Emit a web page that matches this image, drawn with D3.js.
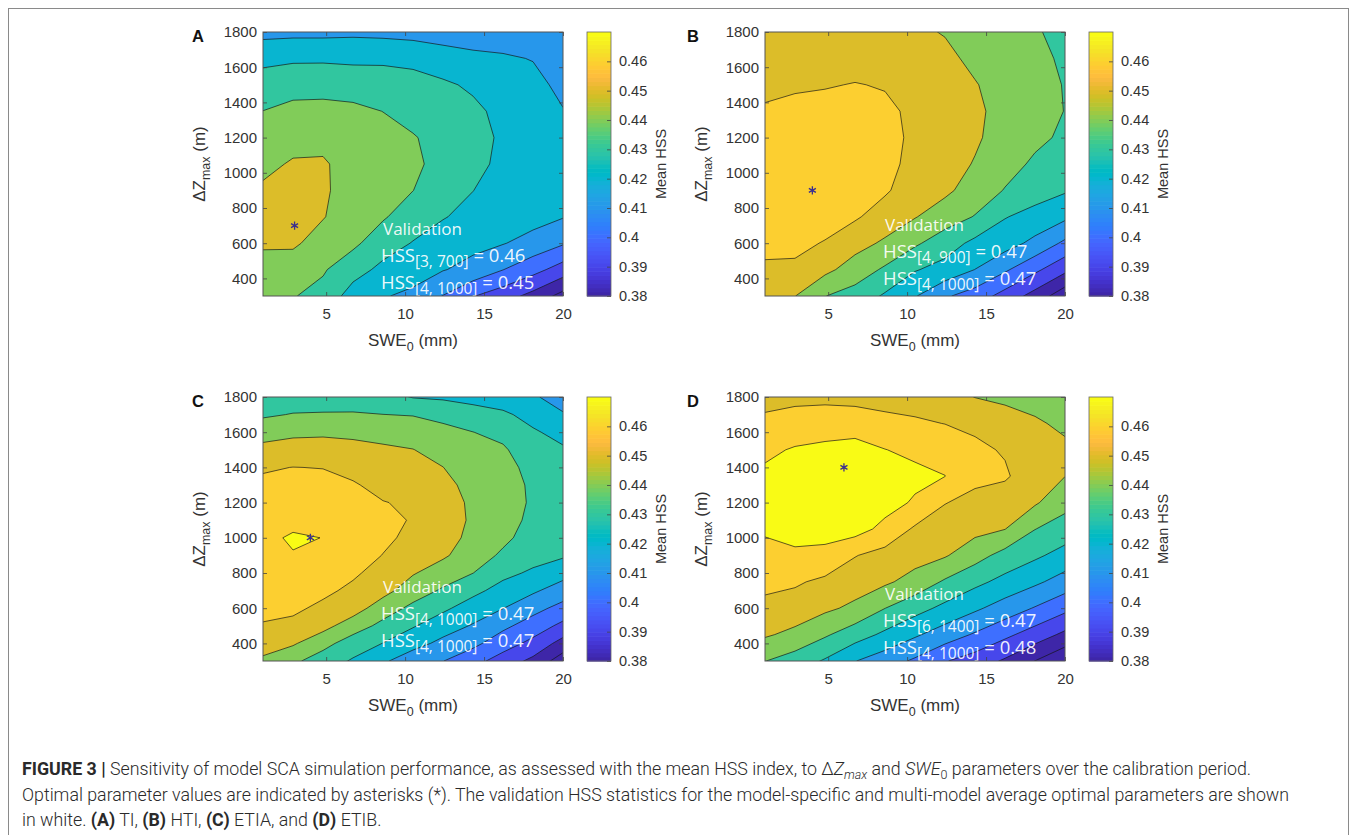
<!DOCTYPE html>
<html>
<head>
<meta charset="utf-8">
<title>Figure 3 – HSS sensitivity</title>
<script src="https://cdn.jsdelivr.net/npm/d3@7/dist/d3.min.js"></script>
<style>
  html, body { margin: 0; padding: 0; background: #fff; }
  svg { display: block; }
</style>
</head>
<body>
<svg id="fig" width="1357" height="835"></svg>
<script>
// ---- sampling grid -------------------------------------------------------
// SWE0 sample positions (mm), one per grid column
const sweNodes = [1, 2.9, 4.8, 6.7, 8.6, 10.5, 12.4, 14.3, 16.2, 18.1, 20];
// ΔZmax sample positions (m), one per grid row, top row first
const dzRowsCoarse = [1800, 1650, 1500, 1350, 1200, 1050, 900, 750, 600, 450, 300];
const dzRowsFine = [1800, 1700, 1600, 1500, 1400, 1300, 1200, 1100, 1000, 900, 800, 700, 600, 500, 400, 300];

// ---- mean HSS over the calibration period (rows follow the ΔZmax lists) ----
const hssTI = [
  [0.4170, 0.4175, 0.4175, 0.4180, 0.4175, 0.4165, 0.4155, 0.4145, 0.4135, 0.4125, 0.4115],
  [0.4275, 0.4285, 0.4285, 0.4280, 0.4280, 0.4275, 0.4245, 0.4225, 0.4215, 0.4195, 0.4145],
  [0.4345, 0.4365, 0.4370, 0.4360, 0.4355, 0.4335, 0.4315, 0.4285, 0.4250, 0.4235, 0.4170],
  [0.4401, 0.4425, 0.4425, 0.4420, 0.4399, 0.4375, 0.4355, 0.4320, 0.4275, 0.4255, 0.4205],
  [0.4445, 0.4465, 0.4475, 0.4460, 0.4430, 0.4405, 0.4375, 0.4335, 0.4285, 0.4260, 0.4235],
  [0.4475, 0.4510, 0.4510, 0.4465, 0.4445, 0.4415, 0.4375, 0.4325, 0.4280, 0.4255, 0.4240],
  [0.4515, 0.4545, 0.4510, 0.4470, 0.4435, 0.4401, 0.4345, 0.4301, 0.4265, 0.4245, 0.4230],
  [0.4550, 0.4560, 0.4505, 0.4450, 0.4410, 0.4350, 0.4305, 0.4275, 0.4245, 0.4235, 0.4205],
  [0.4510, 0.4515, 0.4460, 0.4420, 0.4345, 0.4295, 0.4260, 0.4225, 0.4205, 0.4165, 0.4110],
  [0.4470, 0.4450, 0.4410, 0.4340, 0.4275, 0.4230, 0.4205, 0.4170, 0.4102, 0.4035, 0.3955],
  [0.4440, 0.4405, 0.4370, 0.4255, 0.4205, 0.4185, 0.4097, 0.4005, 0.3945, 0.3868, 0.3765]
];
const hssHTI = [
  [0.4515, 0.4525, 0.4530, 0.4535, 0.4525, 0.4515, 0.4495, 0.4455, 0.4440, 0.4410, 0.4370],
  [0.4545, 0.4550, 0.4555, 0.4570, 0.4565, 0.4550, 0.4520, 0.4480, 0.4455, 0.4425, 0.4385],
  [0.4575, 0.4585, 0.4595, 0.4603, 0.4595, 0.4570, 0.4545, 0.4505, 0.4465, 0.4438, 0.4395],
  [0.4612, 0.4630, 0.4625, 0.4625, 0.4615, 0.4585, 0.4555, 0.4520, 0.4465, 0.4435, 0.4398],
  [0.4635, 0.4650, 0.4645, 0.4635, 0.4625, 0.4585, 0.4555, 0.4515, 0.4455, 0.4420, 0.4385],
  [0.4650, 0.4660, 0.4655, 0.4640, 0.4625, 0.4575, 0.4545, 0.4493, 0.4435, 0.4385, 0.4355],
  [0.4655, 0.4665, 0.4655, 0.4635, 0.4612, 0.4550, 0.4520, 0.4455, 0.4395, 0.4345, 0.4310],
  [0.4645, 0.4650, 0.4635, 0.4612, 0.4555, 0.4505, 0.4447, 0.4395, 0.4305, 0.4265, 0.4220],
  [0.4625, 0.4620, 0.4595, 0.4535, 0.4485, 0.4415, 0.4348, 0.4275, 0.4240, 0.4175, 0.4080],
  [0.4585, 0.4585, 0.4525, 0.4455, 0.4385, 0.4307, 0.4265, 0.4199, 0.4115, 0.4022, 0.3925],
  [0.4545, 0.4502, 0.4402, 0.4360, 0.4287, 0.4207, 0.4113, 0.4055, 0.3962, 0.3862, 0.3735]
];
const hssETIA = [
  [0.4335, 0.4345, 0.4350, 0.4355, 0.4335, 0.4295, 0.4285, 0.4265, 0.4245, 0.4212, 0.4158],
  [0.4385, 0.4405, 0.4408, 0.4408, 0.4401, 0.4395, 0.4375, 0.4345, 0.4318, 0.4265, 0.4208],
  [0.4465, 0.4478, 0.4482, 0.4475, 0.4468, 0.4458, 0.4425, 0.4401, 0.4375, 0.4312, 0.4268],
  [0.4525, 0.4545, 0.4548, 0.4535, 0.4515, 0.4502, 0.4468, 0.4428, 0.4412, 0.4345, 0.4312],
  [0.4592, 0.4601, 0.4598, 0.4575, 0.4548, 0.4535, 0.4501, 0.4452, 0.4435, 0.4368, 0.4338],
  [0.4615, 0.4620, 0.4622, 0.4608, 0.4575, 0.4565, 0.4525, 0.4472, 0.4448, 0.4382, 0.4360],
  [0.4638, 0.4645, 0.4645, 0.4625, 0.4603, 0.4588, 0.4545, 0.4482, 0.4452, 0.4385, 0.4368],
  [0.4655, 0.4660, 0.4672, 0.4638, 0.4618, 0.4595, 0.4550, 0.4485, 0.4438, 0.4378, 0.4362],
  [0.4665, 0.4718, 0.4698, 0.4640, 0.4615, 0.4582, 0.4538, 0.4475, 0.4420, 0.4362, 0.4345],
  [0.4662, 0.4692, 0.4678, 0.4635, 0.4598, 0.4555, 0.4515, 0.4445, 0.4385, 0.4335, 0.4312],
  [0.4655, 0.4675, 0.4655, 0.4618, 0.4555, 0.4508, 0.4448, 0.4401, 0.4325, 0.4285, 0.4235],
  [0.4645, 0.4652, 0.4625, 0.4575, 0.4535, 0.4445, 0.4388, 0.4325, 0.4265, 0.4215, 0.4152],
  [0.4628, 0.4622, 0.4575, 0.4548, 0.4445, 0.4378, 0.4318, 0.4255, 0.4202, 0.4132, 0.4068],
  [0.4592, 0.4572, 0.4535, 0.4445, 0.4375, 0.4308, 0.4245, 0.4192, 0.4122, 0.4055, 0.3975],
  [0.4535, 0.4512, 0.4430, 0.4355, 0.4298, 0.4235, 0.4175, 0.4125, 0.4045, 0.3972, 0.3862],
  [0.4485, 0.4418, 0.4355, 0.4288, 0.4215, 0.4142, 0.4102, 0.4035, 0.3955, 0.3875, 0.3745]
];
const hssETIB = [
  [0.4565, 0.4575, 0.4578, 0.4568, 0.4562, 0.4555, 0.4545, 0.4498, 0.4485, 0.4478, 0.4462],
  [0.4625, 0.4645, 0.4652, 0.4658, 0.4630, 0.4615, 0.4598, 0.4582, 0.4534, 0.4508, 0.4488],
  [0.4682, 0.4708, 0.4722, 0.4732, 0.4702, 0.4678, 0.4672, 0.4618, 0.4592, 0.4535, 0.4512],
  [0.4718, 0.4738, 0.4752, 0.4762, 0.4742, 0.4725, 0.4701, 0.4622, 0.4612, 0.4545, 0.4501],
  [0.4728, 0.4742, 0.4752, 0.4758, 0.4738, 0.4688, 0.4603, 0.4575, 0.4548, 0.4512, 0.4433],
  [0.4712, 0.4725, 0.4735, 0.4740, 0.4672, 0.4586, 0.4557, 0.4529, 0.4502, 0.4402, 0.4353],
  [0.4672, 0.4688, 0.4675, 0.4604, 0.4567, 0.4537, 0.4509, 0.4439, 0.4365, 0.4317, 0.4265],
  [0.4625, 0.4612, 0.4580, 0.4547, 0.4516, 0.4464, 0.4387, 0.4325, 0.4271, 0.4219, 0.4158],
  [0.4575, 0.4558, 0.4519, 0.4479, 0.4401, 0.4337, 0.4275, 0.4217, 0.4156, 0.4093, 0.4027],
  [0.4512, 0.4475, 0.4413, 0.4346, 0.4280, 0.4214, 0.4152, 0.4089, 0.4023, 0.3955, 0.3878],
  [0.4402, 0.4355, 0.4289, 0.4203, 0.4146, 0.4084, 0.4006, 0.3955, 0.3886, 0.3799, 0.3712]
];

// ---- contour levels, colour bar and axes ---------------------------------
const contourLevels = [0.38, 0.39, 0.40, 0.41, 0.42, 0.43, 0.44, 0.45, 0.46, 0.47];
const colorbarRange = [0.38, 0.47];
const colorbarTicks = [0.38, 0.39, 0.40, 0.41, 0.42, 0.43, 0.44, 0.45, 0.46];
const sweTicks = [5, 10, 15, 20];
const dzTicks = [400, 600, 800, 1000, 1200, 1400, 1600, 1800];

// ---- optimum (asterisk) and validation statistics per model --------------
const modelNames = ["TI", "HTI", "ETIA", "ETIB"];
const optimumTI = [3, 700], optimumHTI = [4, 900], optimumETIA = [4, 1000], optimumETIB = [6, 1400];
const validationTI = [["[3, 700]", "0.46"], ["[4, 1000]", "0.45"]];
const validationHTI = [["[4, 900]", "0.47"], ["[4, 1000]", "0.47"]];
const validationETIA = [["[4, 1000]", "0.47"], ["[4, 1000]", "0.47"]];
const validationETIB = [["[6, 1400]", "0.47"], ["[4, 1000]", "0.48"]];

// MATLAB parula colormap, 64 entries
const parula = [
[0.2422,0.1504,0.6603],[0.2504,0.1650,0.7076],[0.2578,0.1818,0.7511],[0.2647,0.1978,0.7952],
[0.2706,0.2147,0.8364],[0.2751,0.2342,0.8710],[0.2783,0.2559,0.8991],[0.2803,0.2782,0.9221],
[0.2813,0.3006,0.9414],[0.2810,0.3228,0.9579],[0.2795,0.3447,0.9717],[0.2760,0.3667,0.9829],
[0.2699,0.3892,0.9906],[0.2602,0.4123,0.9952],[0.2440,0.4358,0.9988],[0.2206,0.4603,0.9973],
[0.1963,0.4847,0.9892],[0.1834,0.5074,0.9798],[0.1786,0.5289,0.9682],[0.1764,0.5499,0.9520],
[0.1687,0.5703,0.9359],[0.1540,0.5902,0.9218],[0.1460,0.6091,0.9079],[0.1380,0.6276,0.8973],
[0.1248,0.6459,0.8883],[0.1113,0.6635,0.8763],[0.0952,0.6798,0.8598],[0.0689,0.6948,0.8394],
[0.0297,0.7082,0.8163],[0.0036,0.7203,0.7917],[0.0067,0.7312,0.7660],[0.0433,0.7411,0.7394],
[0.0964,0.7500,0.7120],[0.1408,0.7584,0.6842],[0.1717,0.7670,0.6554],[0.1938,0.7758,0.6251],
[0.2161,0.7843,0.5923],[0.2470,0.7918,0.5567],[0.2906,0.7973,0.5188],[0.3406,0.8008,0.4789],
[0.3909,0.8029,0.4354],[0.4456,0.8024,0.3909],[0.5044,0.7993,0.3480],[0.5616,0.7942,0.3045],
[0.6174,0.7876,0.2612],[0.6720,0.7793,0.2227],[0.7242,0.7698,0.1910],[0.7738,0.7598,0.1646],
[0.8203,0.7498,0.1535],[0.8634,0.7406,0.1596],[0.9035,0.7330,0.1774],[0.9393,0.7288,0.2100],
[0.9728,0.7298,0.2394],[0.9956,0.7434,0.2371],[0.9970,0.7659,0.2199],[0.9952,0.7893,0.2028],
[0.9892,0.8136,0.1885],[0.9786,0.8386,0.1766],[0.9676,0.8639,0.1643],[0.9610,0.8890,0.1537],
[0.9597,0.9135,0.1423],[0.9628,0.9373,0.1265],[0.9691,0.9606,0.1064],[0.9769,0.9839,0.0805]
];
const parulaHex = parula.map(c => d3.rgb(c[0] * 255, c[1] * 255, c[2] * 255).formatHex());
const cIndex = d3.scaleLinear().domain(colorbarRange).range([0, parula.length - 1]).clamp(true);
const levelColor = v => parulaHex[Math.round(cIndex(v))];

// ---- layout ----------------------------------------------------------------
const PW = 300, PH = 264;
const panels = [
  { letter: "A", grid: hssTI,   rows: dzRowsCoarse, left: 263, top: 32,  opt: optimumTI,   val: validationTI,   textTop: 203, letterX: 198 },
  { letter: "B", grid: hssHTI,  rows: dzRowsCoarse, left: 765, top: 32,  opt: optimumHTI,  val: validationHTI,  textTop: 199, letterX: 693 },
  { letter: "C", grid: hssETIA, rows: dzRowsFine,   left: 263, top: 397, opt: optimumETIA, val: validationETIA, textTop: 196, letterX: 198 },
  { letter: "D", grid: hssETIB, rows: dzRowsCoarse, left: 765, top: 397, opt: optimumETIB, val: validationETIB, textTop: 203, letterX: 693 }
];

const svg = d3.select("#fig");
const tickFont = "'Liberation Sans', Arial, Helvetica, sans-serif";
const inkColor = "#333333";

// figure frame
svg.append("rect")
  .attr("x", 8.5).attr("y", 8.5).attr("width", 1340).attr("height", 840)
  .attr("fill", "none").attr("stroke", "#8a8a8a").attr("stroke-width", 1);

const contourGen = d3.contours().thresholds(contourLevels);

panels.forEach(p => {
  const g = svg.append("g").attr("class", "panel panel-" + p.letter);
  const x = d3.scaleLinear().domain([1, 20]).range([p.left, p.left + PW]);
  const y = d3.scaleLinear().domain([300, 1800]).range([p.top + PH, p.top]);

  // grid index -> screen (d3.contours puts sample k at k + 0.5)
  const nx = sweNodes.length, ny = p.rows.length;
  const gx = d3.scaleLinear().domain([0.5, nx - 0.5]).range([x(sweNodes[0]), x(sweNodes[nx - 1])]);
  const gy = d3.scaleLinear().domain([0.5, ny - 0.5]).range([y(p.rows[0]), y(p.rows[ny - 1])]);
  const path = d3.geoPath(d3.geoTransform({
    point(px, py) { this.stream.point(gx(px), gy(py)); }
  }));

  const bands = contourGen.size([nx, ny])(p.grid.flat());

  const clipId = "clip-" + p.letter;
  g.append("clipPath").attr("id", clipId)
    .append("rect").attr("x", p.left).attr("y", p.top).attr("width", PW).attr("height", PH);

  const plot = g.append("g").attr("clip-path", `url(#${clipId})`);
  plot.append("rect")
    .attr("x", p.left).attr("y", p.top).attr("width", PW).attr("height", PH)
    .attr("fill", levelColor(colorbarRange[0]));
  plot.selectAll("path.fill").data(bands).join("path")
    .attr("class", "fill")
    .attr("d", path)
    .attr("fill", d => levelColor(d.value))
    .attr("stroke", "none");
  plot.selectAll("path.iso").data(bands).join("path")
    .attr("class", "iso")
    .attr("d", path)
    .attr("fill", "none")
    .attr("stroke", "#151515")
    .attr("stroke-opacity", 0.85)
    .attr("stroke-width", 0.8);

  // optimum marker
  plot.append("path")
    .attr("transform", `translate(${x(p.opt[0])},${y(p.opt[1])})`)
    .attr("d", d3.symbol(d3.symbolAsterisk, 46)())
    .attr("fill", "none")
    .attr("stroke", "#3b2f8f")
    .attr("stroke-width", 1.3);

  // validation statistics
  const vt = g.append("g")
    .attr("font-family", "'Open Sans', 'DejaVu Sans', sans-serif")
    .attr("fill", "#ffffff")
    .attr("fill-opacity", 0.93);
  const tx = p.left + 118;
  vt.append("text").attr("x", tx + 2).attr("y", p.top + p.textTop)
    .attr("font-size", 17).text("Validation");
  p.val.forEach((v, k) => {
    const t = vt.append("text").attr("x", tx).attr("y", p.top + p.textTop + 27 * (k + 1))
      .attr("font-size", 18.5);
    t.append("tspan").text("HSS");
    t.append("tspan").attr("font-size", 15.5).attr("dy", 5).text(v[0]);
    t.append("tspan").attr("dy", -5).text(" = " + v[1]);
  });

  // axes (ticks point inwards, box on)
  const axisStyle = sel => {
    sel.select(".domain").remove();
    sel.selectAll(".tick line").attr("stroke", "#444").attr("stroke-width", 0.8);
    sel.selectAll(".tick text").attr("fill", inkColor).attr("font-family", tickFont).attr("font-size", 15);
  };
  g.append("g").attr("transform", `translate(0,${p.top + PH})`)
    .call(d3.axisBottom(x).tickValues(sweTicks).tickSizeInner(-4).tickSizeOuter(0).tickPadding(12))
    .call(axisStyle);
  g.append("g").attr("transform", `translate(0,${p.top})`)
    .call(d3.axisTop(x).tickValues(sweTicks).tickSizeInner(-4).tickSizeOuter(0).tickFormat(""))
    .call(axisStyle);
  g.append("g").attr("transform", `translate(${p.left},0)`)
    .call(d3.axisLeft(y).tickValues(dzTicks).tickSizeInner(-4).tickSizeOuter(0).tickPadding(6).tickFormat(d3.format("d")))
    .call(axisStyle);
  g.append("g").attr("transform", `translate(${p.left + PW},0)`)
    .call(d3.axisRight(y).tickValues(dzTicks).tickSizeInner(-4).tickSizeOuter(0).tickFormat(""))
    .call(axisStyle);
  g.append("rect")
    .attr("x", p.left).attr("y", p.top).attr("width", PW).attr("height", PH)
    .attr("fill", "none").attr("stroke", "#555").attr("stroke-width", 1);

  // axis labels
  g.append("text")
    .attr("x", p.left + PW / 2).attr("y", p.top + PH + 50)
    .attr("text-anchor", "middle")
    .attr("font-family", tickFont).attr("font-size", 17).attr("fill", inkColor)
    .call(t => {
      t.append("tspan").text("SWE");
      t.append("tspan").attr("font-size", 12.5).attr("dy", 5).text("0");
      t.append("tspan").attr("dy", -5).text(" (mm)");
    });
  g.append("text")
    .attr("transform", `translate(${p.left - 58},${p.top + PH / 2}) rotate(-90)`)
    .attr("text-anchor", "middle")
    .attr("font-family", tickFont).attr("font-size", 17).attr("fill", inkColor)
    .call(t => {
      t.append("tspan").text("\u0394Z");
      t.append("tspan").attr("font-size", 12.5).attr("dy", 5).text("max");
      t.append("tspan").attr("dy", -5).text(" (m)");
    });

  // panel letter
  g.append("text")
    .attr("x", p.letterX).attr("y", p.top + 10)
    .attr("text-anchor", "middle")
    .attr("font-family", tickFont).attr("font-weight", "bold").attr("font-size", 16.5)
    .attr("fill", "#111")
    .text(p.letter);

  // colour bar
  const cbx = p.left + PW + 24, cbw = 24;
  const cy = d3.scaleLinear().domain(colorbarRange).range([p.top + PH, p.top]);
  const step = (colorbarRange[1] - colorbarRange[0]) / parula.length;
  g.append("g").selectAll("rect").data(parulaHex).join("rect")
    .attr("x", cbx).attr("width", cbw)
    .attr("y", (d, k) => cy(colorbarRange[0] + (k + 1) * step))
    .attr("height", (d, k) => cy(colorbarRange[0] + k * step) - cy(colorbarRange[0] + (k + 1) * step) + 0.6)
    .attr("fill", d => d);
  g.append("g").attr("transform", `translate(${cbx + cbw},0)`)
    .call(d3.axisRight(cy).tickValues(colorbarTicks).tickSizeInner(-4).tickSizeOuter(0).tickPadding(8)
      .tickFormat(d3.format(".2~f")))
    .call(sel => {
      sel.select(".domain").remove();
      sel.selectAll(".tick line").attr("stroke", "#444").attr("stroke-width", 0.8);
      sel.selectAll(".tick text").attr("fill", inkColor).attr("font-family", tickFont).attr("font-size", 14.5);
    });
  g.append("rect")
    .attr("x", cbx).attr("y", p.top).attr("width", cbw).attr("height", PH)
    .attr("fill", "none").attr("stroke", "#666").attr("stroke-width", 0.8);
  g.append("text")
    .attr("transform", `translate(${cbx + cbw + 55},${p.top + PH / 2}) rotate(-90)`)
    .attr("text-anchor", "middle")
    .attr("font-family", tickFont).attr("font-size", 14.5).attr("fill", inkColor)
    .text("Mean HSS");
});

// ---- caption ----------------------------------------------------------------
const cap = svg.append("g")
  .attr("font-family", "Roboto, 'Liberation Sans', Arial, sans-serif")
  .attr("font-weight", 300)
  .attr("font-size", 17.8)
  .attr("fill", "#2a2a2a");

const line1 = cap.append("text").attr("x", 22).attr("y", 775);
line1.append("tspan").attr("font-weight", 700).text("FIGURE 3 |");
line1.append("tspan").text(" Sensitivity of model SCA simulation performance, as assessed with the mean HSS index, to \u0394");
line1.append("tspan").attr("font-style", "italic").text("Z");
line1.append("tspan").attr("font-style", "italic").attr("font-size", 12.5).attr("dy", 4).text("max");
line1.append("tspan").attr("dy", -4).text(" and ");
line1.append("tspan").attr("font-style", "italic").text("SWE");
line1.append("tspan").attr("font-size", 12.5).attr("dy", 4).text("0");
line1.append("tspan").attr("dy", -4).text(" parameters over the calibration period.");

cap.append("text").attr("x", 22).attr("y", 801)
  .text("Optimal parameter values are indicated by asterisks (*). The validation HSS statistics for the model-specific and multi-model average optimal parameters are shown");

const line3 = cap.append("text").attr("x", 22).attr("y", 826);
line3.append("tspan").text("in white. ");
modelNames.forEach((m, k) => {
  line3.append("tspan").attr("font-weight", 700).text("(" + panels[k].letter + ")");
  line3.append("tspan").text(" " + m + (k < 2 ? ", " : k === 2 ? ", and " : "."));
});
</script>
</body>
</html>
